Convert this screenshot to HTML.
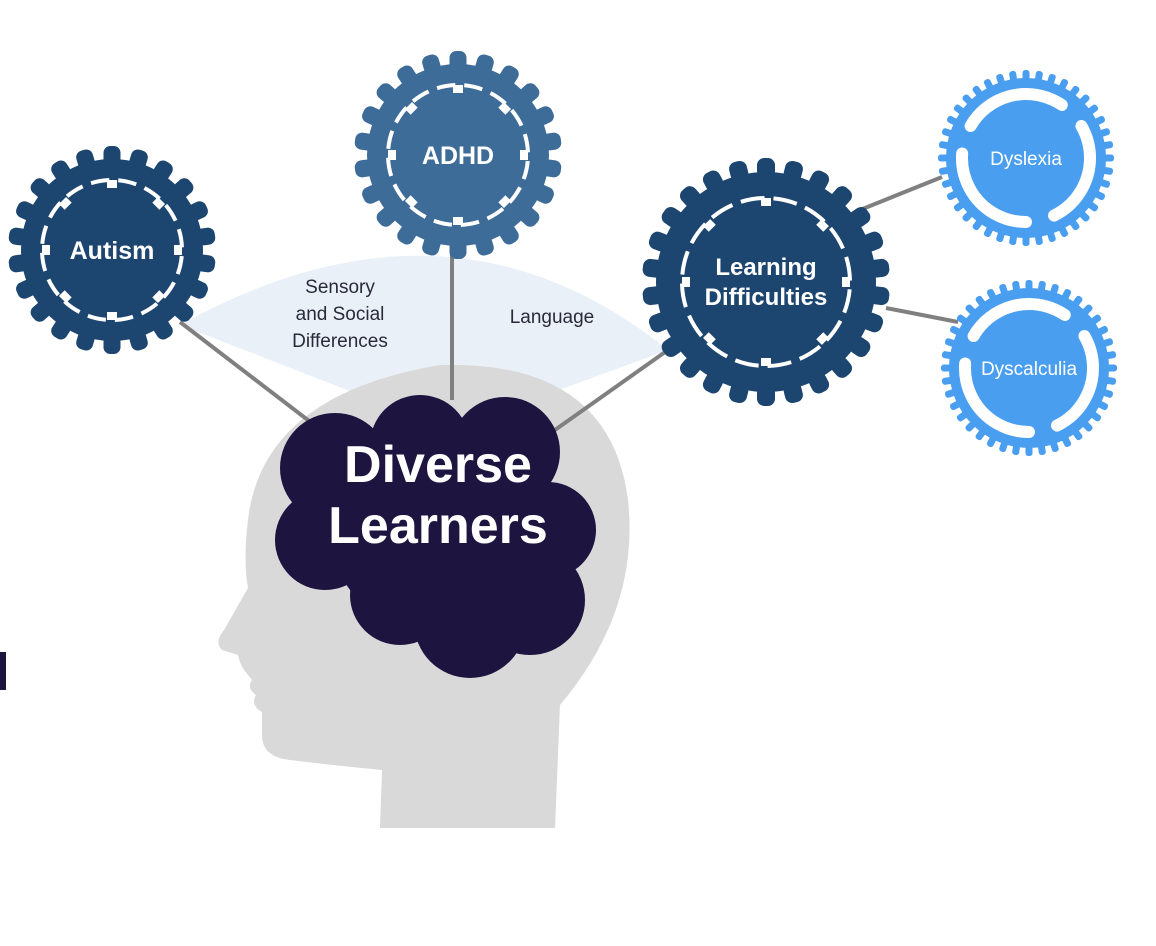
<!DOCTYPE html>
<html><head><meta charset="utf-8"><style>
html,body{margin:0;padding:0;background:#fff;}
svg{display:block}
text{font-family:"Liberation Sans",sans-serif}
</style></head><body>
<svg id="s" width="1156" height="946" viewBox="0 0 1156 946" xmlns="http://www.w3.org/2000/svg">
<rect width="1156" height="946" fill="#fff"/>
<path d="M180,325 Q450,175 668,350 L450,430 Z" fill="#e9f0f8"/>
<path d="M380,828 L382,770 Q330,765 290,760 Q262,757 262,735 L262,712 Q250,705 256,695 Q246,688 252,680 L244,670 Q240,664 238,655 L222,650 Q214,642 224,630 L248,588 Q243,560 248,520 Q262,395 440,365 Q610,360 628,500 Q640,610 560,705 L555,828 Z" fill="#d9d9d9"/>
<g stroke="#808080" stroke-width="4">
<line x1="180" y1="322" x2="330" y2="437"/>
<line x1="452" y1="250" x2="452" y2="400"/>
<line x1="545" y1="437" x2="668" y2="350"/>
<line x1="855" y1="212" x2="942" y2="177"/>
<line x1="886" y1="308" x2="958" y2="322"/>
</g>
<g fill="#1d1440">
<circle cx="335" cy="468" r="55"/><circle cx="420" cy="445" r="50"/><circle cx="505" cy="452" r="55"/>
<circle cx="548" cy="530" r="48"/><circle cx="530" cy="600" r="55"/><circle cx="470" cy="622" r="56"/>
<circle cx="400" cy="595" r="50"/><circle cx="325" cy="540" r="50"/><circle cx="430" cy="530" r="100"/>
</g>
<text x="438" y="482" text-anchor="middle" font-size="52" font-weight="bold" fill="#fff">Diverse</text>
<text x="438" y="543" text-anchor="middle" font-size="52" font-weight="bold" fill="#fff">Learners</text>
<text x="340" y="293" text-anchor="middle" font-size="19" fill="#2a2a3a">Sensory</text>
<text x="340" y="320" text-anchor="middle" font-size="19" fill="#2a2a3a">and Social</text>
<text x="340" y="347" text-anchor="middle" font-size="19" fill="#2a2a3a">Differences</text>
<text x="552" y="323" text-anchor="middle" font-size="19" fill="#2a2a3a">Language</text>
<rect x="0" y="652" width="6" height="38" fill="#1d1440"/>
<g id="gears"></g>
</svg>
<script>
var NS="http://www.w3.org/2000/svg",G=document.getElementById('gears');
function el(t,a){var e=document.createElementNS(NS,t);for(var k in a)e.setAttribute(k,a[k]);G.appendChild(e);return e;}
function gear(cx,cy,R,body,n,tw,col){
 el('circle',{cx:cx,cy:cy,r:body,fill:col});
 for(var i=0;i<n;i++){var a=360*i/n;
  el('rect',{x:cx-tw/2,y:cy-R,width:tw,height:R-body+6,rx:tw/2.5,fill:col,transform:'rotate('+a+' '+cx+' '+cy+')'});}
}
function big(cx,cy,R,body,n,tw,col,ir,label,fs,label2){
 gear(cx,cy,R,body,n,tw,col);
 var c=2*Math.PI*ir;
 el('circle',{cx:cx,cy:cy,r:ir,fill:'none',stroke:'#fff','stroke-width':4,'stroke-dasharray':(c/16-9)+' 9',transform:'rotate(5 '+cx+' '+cy+')'});
 for(var i=0;i<8;i++){el('rect',{x:cx-5,y:cy-ir,width:10,height:8,fill:'#fff',transform:'rotate('+(45*i)+' '+cx+' '+cy+')'});}
 var t=el('text',{x:cx,y:label2?cy-7:cy+9,'text-anchor':'middle','font-size':fs,'font-weight':'bold',fill:'#fff'});t.textContent=label;
 if(label2){var t2=el('text',{x:cx,y:cy+23,'text-anchor':'middle','font-size':fs,'font-weight':'bold',fill:'#fff'});t2.textContent=label2;}
}
function small(cx,cy,label){
 gear(cx,cy,88,80,40,7,'#4a9ef0');
 el('circle',{cx:cx,cy:cy,r:64,fill:'none',stroke:'#fff','stroke-width':12,'stroke-dasharray':'105 29','stroke-linecap':'round',transform:'rotate(-150 '+cx+' '+cy+')'});
 el('circle',{cx:cx,cy:cy,r:57,fill:'#4a9ef0'});
 var t=el('text',{x:cx,y:cy+7,'text-anchor':'middle','font-size':19,fill:'#fff'});t.textContent=label;
}
big(112,250,104,91,22,17,'#1c4570',70,'Autism',25);
big(458,155,104,91,22,17,'#3d6c99',70,'ADHD',25);
big(766,282,124,110,26,18,'#1c4570',84,'Learning',24,'Difficulties');
small(1026,158,'Dyslexia');
small(1029,368,'Dyscalculia');
</script>
</body></html>
